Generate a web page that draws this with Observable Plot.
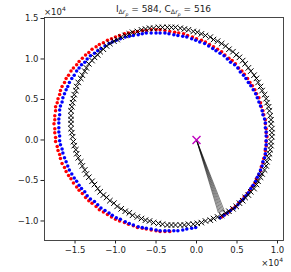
<!DOCTYPE html>
<html><head><meta charset="utf-8">
<script src="https://cdn.jsdelivr.net/npm/d3@7"></script>
<script src="https://cdn.jsdelivr.net/npm/@observablehq/plot@0.6"></script>
<style>body{margin:0;background:#fff} svg{display:block}</style>
</head><body><div id="chart"></div>
<script>
// all positions in units of 10^4
const xTicks = [-1.5, -1.0, -0.5, 0.0, 0.5, 1.0];
const yTicks = [-1.0, -0.5, 0.0, 0.5, 1.0, 1.5];

// true trajectory (black crosses)
const blackX = [0.93,0.93,0.92,0.92,0.91,0.90,0.89,0.87,0.86,0.84,0.81,0.79,0.76,0.74,0.71,0.67,0.64,0.60,0.57,0.53,0.49,0.45,0.40,0.36,0.31,0.26,0.21,0.17,0.11,0.06,0.01,-0.04,-0.10,-0.15,-0.20,-0.26,
 -0.31,-0.36,-0.42,-0.47,-0.53,-0.58,-0.63,-0.68,-0.73,-0.79,-0.83,-0.88,-0.93,-0.98,-1.02,-1.07,-1.11,-1.15,-1.19,-1.22,-1.26,-1.29,-1.33,-1.36,-1.38,-1.41,-1.43,-1.46,-1.48,-1.49,-1.51,-1.52,-1.53,-1.54,-1.55,-1.55,
 -1.55,-1.55,-1.55,-1.54,-1.53,-1.52,-1.51,-1.49,-1.48,-1.46,-1.43,-1.41,-1.38,-1.36,-1.33,-1.29,-1.26,-1.22,-1.19,-1.15,-1.11,-1.07,-1.02,-0.98,-0.93,-0.88,-0.83,-0.79,-0.73,-0.68,-0.63,-0.58,-0.53,-0.47,-0.42,-0.36,
 -0.31,-0.26,-0.20,-0.15,-0.10,-0.04,0.01,0.06,0.11,0.17,0.21,0.26,0.31,0.36,0.40,0.45,0.49,0.53,0.57,0.60,0.64,0.67,0.71,0.74,0.76,0.79,0.81,0.84,0.86,0.87,0.89,0.90,0.91,0.92,0.92,0.93];
const blackY = [0.09,0.14,0.20,0.25,0.30,0.36,0.41,0.46,0.51,0.56,0.61,0.66,0.71,0.76,0.80,0.85,0.89,0.94,0.98,1.02,1.05,1.09,1.12,1.16,1.19,1.22,1.24,1.27,1.29,1.31,1.33,1.34,1.36,1.37,1.38,1.39,
 1.39,1.39,1.39,1.39,1.38,1.38,1.37,1.36,1.34,1.33,1.31,1.29,1.27,1.24,1.22,1.19,1.16,1.12,1.09,1.05,1.02,0.98,0.94,0.89,0.85,0.80,0.76,0.71,0.66,0.61,0.56,0.51,0.46,0.41,0.36,0.30,
 0.25,0.20,0.14,0.09,0.04,-0.02,-0.07,-0.12,-0.17,-0.22,-0.27,-0.32,-0.37,-0.42,-0.46,-0.51,-0.55,-0.60,-0.64,-0.68,-0.71,-0.75,-0.78,-0.82,-0.85,-0.88,-0.90,-0.93,-0.95,-0.97,-0.99,-1.00,-1.02,-1.03,-1.04,-1.05,
 -1.05,-1.05,-1.05,-1.05,-1.04,-1.04,-1.03,-1.02,-1.00,-0.99,-0.97,-0.95,-0.93,-0.90,-0.88,-0.85,-0.82,-0.78,-0.75,-0.71,-0.68,-0.64,-0.60,-0.55,-0.51,-0.46,-0.42,-0.37,-0.32,-0.27,-0.22,-0.17,-0.12,-0.07,-0.02,0.04];

// estimate I (red dots)
const redX = [0.31,0.35,0.40,0.44,0.48,0.52,0.56,0.59,0.63,0.66,0.69,0.72,0.74,0.77,0.79,0.80,0.82,0.83,0.85,0.85,0.86,0.86,
 0.87,0.86,0.86,0.85,0.85,0.83,0.82,0.80,0.79,0.77,0.74,0.72,0.69,0.66,0.63,0.59,0.56,0.52,0.48,0.44,0.40,0.35,0.31,0.26,0.21,0.16,0.11,0.06,0.00,-0.05,-0.11,-0.16,-0.22,-0.27,-0.33,-0.39,
 -0.45,-0.50,-0.56,-0.62,-0.67,-0.73,-0.78,-0.84,-0.89,-0.95,-1.00,-1.05,-1.10,-1.15,-1.20,-1.24,-1.29,-1.33,-1.37,-1.41,-1.45,-1.48,-1.52,-1.55,-1.58,-1.61,-1.63,-1.66,-1.68,-1.69,-1.71,-1.72,-1.74,-1.74,-1.75,-1.75,
 -1.76,-1.75,-1.75,-1.74,-1.74,-1.72,-1.71,-1.69,-1.68,-1.66,-1.63,-1.61,-1.58,-1.55,-1.52,-1.48,-1.45,-1.41,-1.37,-1.33,-1.29,-1.24,-1.20,-1.15,-1.10,-1.05,-1.00,-0.95,-0.89,-0.84,-0.78,-0.73,-0.67,-0.62,-0.56,-0.50,-0.45,-0.39,-0.33];
const redY = [-0.95,-0.92,-0.89,-0.85,-0.82,-0.78,-0.74,-0.70,-0.66,-0.62,-0.57,-0.53,-0.48,-0.43,-0.38,-0.33,-0.28,-0.23,-0.18,-0.13,-0.07,-0.02,
 0.04,0.09,0.14,0.20,0.25,0.31,0.36,0.41,0.46,0.52,0.57,0.62,0.67,0.71,0.76,0.81,0.85,0.89,0.94,0.98,1.01,1.05,1.09,1.12,1.15,1.18,1.21,1.23,1.25,1.27,1.29,1.31,1.32,1.33,1.34,1.35,
 1.36,1.36,1.36,1.35,1.35,1.34,1.33,1.32,1.31,1.29,1.27,1.25,1.23,1.20,1.18,1.15,1.12,1.08,1.05,1.01,0.97,0.93,0.89,0.85,0.80,0.76,0.71,0.66,0.61,0.56,0.51,0.46,0.41,0.36,0.30,0.25,
 0.20,0.14,0.09,0.03,-0.02,-0.08,-0.13,-0.18,-0.23,-0.29,-0.34,-0.39,-0.44,-0.48,-0.53,-0.58,-0.62,-0.66,-0.71,-0.75,-0.78,-0.82,-0.86,-0.89,-0.92,-0.95,-0.98,-1.00,-1.02,-1.04,-1.06,-1.08,-1.09,-1.10,-1.11,-1.12,-1.13,-1.13,-1.13];

// estimate C (blue dots)
const blueX = [0.29,0.34,0.38,0.42,0.47,0.51,0.54,0.58,0.61,0.64,0.67,0.70,0.73,0.75,0.77,0.79,0.81,0.82,0.84,0.85,0.85,0.86,0.86,
 0.86,0.86,0.85,0.85,0.84,0.82,0.81,0.79,0.77,0.75,0.73,0.70,0.67,0.64,0.61,0.58,0.54,0.51,0.47,0.42,0.38,0.34,0.29,0.24,0.20,0.15,0.10,0.04,-0.01,-0.06,-0.12,-0.17,-0.23,-0.28,-0.34,-0.39,
 -0.45,-0.50,-0.56,-0.62,-0.67,-0.72,-0.78,-0.83,-0.88,-0.94,-0.99,-1.04,-1.08,-1.13,-1.18,-1.22,-1.26,-1.31,-1.35,-1.38,-1.42,-1.45,-1.48,-1.51,-1.54,-1.57,-1.59,-1.61,-1.63,-1.65,-1.66,-1.68,-1.69,-1.69,-1.70,-1.70,
 -1.70,-1.70,-1.69,-1.69,-1.68,-1.66,-1.65,-1.63,-1.61,-1.59,-1.57,-1.54,-1.51,-1.48,-1.45,-1.42,-1.38,-1.35,-1.31,-1.26,-1.22,-1.18,-1.13,-1.08,-1.04,-0.99,-0.94,-0.88,-0.83,-0.78,-0.72,-0.67,-0.62,-0.56,-0.50,-0.45,
 -0.39,-0.34,-0.28,-0.23,-0.17,-0.12,-0.06,-0.01];
const blueY = [-0.96,-0.93,-0.90,-0.87,-0.84,-0.80,-0.76,-0.73,-0.69,-0.65,-0.60,-0.56,-0.51,-0.46,-0.42,-0.37,-0.32,-0.27,-0.22,-0.17,-0.11,-0.06,-0.01,
 0.05,0.10,0.15,0.21,0.26,0.31,0.36,0.42,0.47,0.52,0.57,0.62,0.67,0.71,0.76,0.80,0.84,0.89,0.93,0.96,1.00,1.04,1.07,1.10,1.13,1.16,1.19,1.21,1.23,1.25,1.27,1.28,1.29,1.30,1.31,1.32,
 1.32,1.32,1.32,1.32,1.31,1.30,1.29,1.28,1.27,1.25,1.23,1.21,1.19,1.16,1.13,1.10,1.07,1.04,1.00,0.96,0.93,0.89,0.85,0.80,0.76,0.71,0.66,0.62,0.57,0.52,0.47,0.42,0.37,0.31,0.26,0.21,
 0.15,0.10,0.05,-0.01,-0.06,-0.11,-0.16,-0.22,-0.27,-0.32,-0.37,-0.42,-0.47,-0.51,-0.56,-0.60,-0.64,-0.69,-0.73,-0.76,-0.80,-0.84,-0.87,-0.90,-0.93,-0.96,-0.98,-1.01,-1.03,-1.05,-1.07,-1.08,-1.09,-1.10,-1.11,-1.12,
 -1.12,-1.12,-1.12,-1.12,-1.11,-1.10,-1.09,-1.08];

// sensor at origin (magenta) and rays to target
const originX = [0.0];
const originY = [0.0];
const fanX = [0.27, 0.285, 0.30, 0.315, 0.33, 0.345];
const fanY = [-0.90, -0.90, -0.895, -0.89, -0.885, -0.88];

const pts = (xs, ys) => xs.map((x, i) => ({x, y: ys[i]}));
const black = pts(blackX, blackY);
const red = pts(redX, redY);
const blue = pts(blueX, blueY);
const origin = pts(originX, originY);
const fan = fanX.map((x, i) => ({x1: originX[0], y1: originY[0], x2: x, y2: fanY[i]}));

const fmt = d => d.toFixed(1).replace("-", "\u2212");

const chart = Plot.plot({
  width: 291, height: 272,
  marginLeft: 44, marginRight: 8, marginTop: 17, marginBottom: 32,
  x: {domain: [-1.877, 1.074], ticks: xTicks, tickFormat: fmt, tickSize: 3.5, tickPadding: 2.5, label: null},
  y: {domain: [-1.241, 1.512], ticks: yTicks, tickFormat: fmt, tickSize: 3.5, tickPadding: 2.5, label: null},
  style: {fontFamily: "DejaVu Sans", fontSize: "8.5px", color: "#222", background: "white"},
  marks: [
    Plot.dot(red, {x: "x", y: "y", r: 1.75, fill: "#ff0000"}),
    Plot.dot(blue, {x: "x", y: "y", r: 1.75, fill: "#0000ff"}),
    Plot.dot(black, {x: "x", y: "y", symbol: "times", r: 2.6, stroke: "black", strokeWidth: 1}),
    Plot.link(fan, {x1: "x1", y1: "y1", x2: "x2", y2: "y2", stroke: "black", strokeWidth: 0.5}),
    Plot.dot(origin, {x: "x", y: "y", symbol: "times", r: 3.7, stroke: "#bf00bf", strokeWidth: 1.4}),
    Plot.frame({stroke: "#333", strokeWidth: 0.9})
  ]
});

const svg = d3.select(chart);
function addText(x, y, anchor, size, parts) {
  const t = svg.append("text").attr("x", x).attr("y", y).attr("text-anchor", anchor)
    .attr("font-family", "DejaVu Sans").attr("font-size", size).attr("fill", "#222");
  for (const p of parts) {
    const s = t.append("tspan").text(p.t);
    if (p.dy) s.attr("dy", p.dy);
    if (p.fs) s.attr("font-size", p.fs);
    if (p.it) s.attr("font-style", "italic");
  }
  return t;
}
// title: I_{Δr_p} = 584, C_{Δr_p} = 516
addText(163.5, 12, "middle", 9, [
  {t: "I"}, {t: "\u0394", fs: 6.3, dy: 2.2}, {t: "r", fs: 6.3, it: true}, {t: "p", fs: 4.6, it: true, dy: 1.3},
  {t: " = 584, C", fs: 9, dy: -3.5},
  {t: "\u0394", fs: 6.3, dy: 2.2}, {t: "r", fs: 6.3, it: true}, {t: "p", fs: 4.6, it: true, dy: 1.3},
  {t: " = 516", fs: 9, dy: -3.5}
]);
// offset texts
addText(44, 14.5, "start", 8.5, [{t: "\u00d710"}, {t: "4", fs: 6, dy: -3.5}]);
addText(283, 265.5, "end", 8.5, [{t: "\u00d710"}, {t: "4", fs: 6, dy: -3.5}]);

document.getElementById("chart").appendChild(chart);
</script>
</body></html>
